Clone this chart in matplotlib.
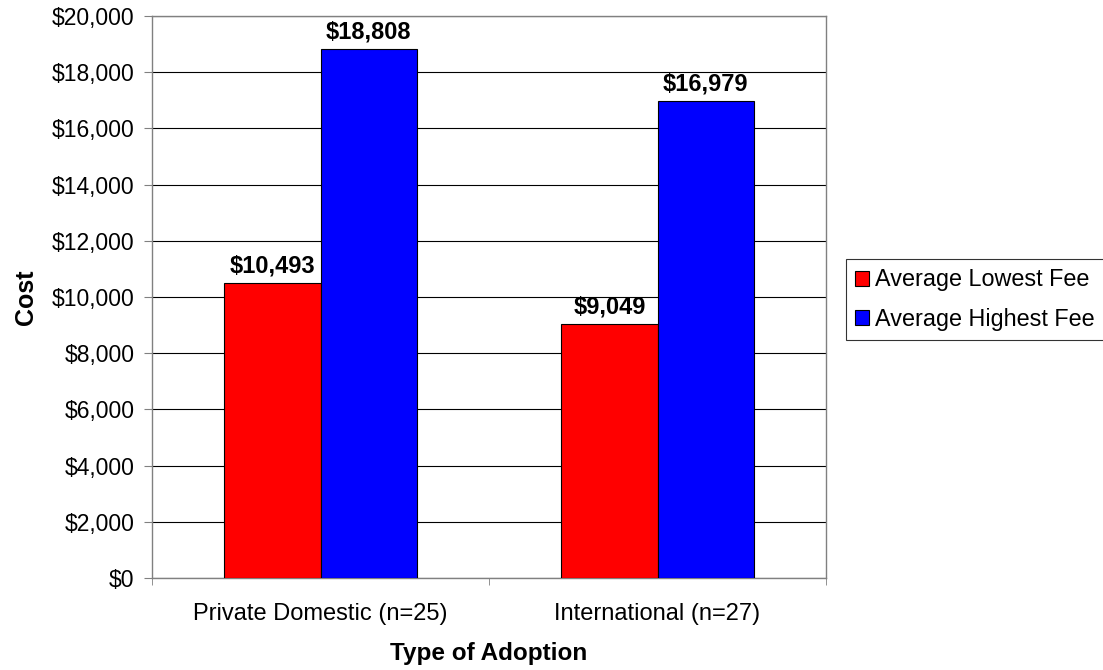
import matplotlib
matplotlib.use('Agg')
from matplotlib import pyplot as plt
import numpy as np

categories = ['Private Domestic (n=25)', 'International (n=27)']
lowest_fee = [10493, 9049]
highest_fee = [18808, 16979]
series_names = ['Average Lowest Fee', 'Average Highest Fee']

plt.rcParams['font.family'] = ['Liberation Sans', 'DejaVu Sans']

fig = plt.figure(figsize=(11.03, 6.70), dpi=100)
ax = fig.add_axes([152/1103, 1-578/670, 674/1103, 562/670])

x = np.arange(len(categories))
w = 0.285
b1 = ax.bar(x - w/2, lowest_fee, w, color='#ff0000', edgecolor='black', linewidth=0.8, label=series_names[0], zorder=3)
b2 = ax.bar(x + w/2, highest_fee, w, color='#0000ff', edgecolor='black', linewidth=0.8, label=series_names[1], zorder=3)

for bars in (b1, b2):
    for r in bars:
        ax.text(r.get_x() + r.get_width()/2, r.get_height() + 200, '${:,.0f}'.format(r.get_height()),
                ha='center', va='bottom', fontsize=17, fontweight='bold')

ax.set_xlim(-0.5, 1.5)
ax.set_ylim(0, 20000)
ax.set_yticks(np.arange(0, 20001, 2000))
ax.set_yticklabels(['${:,.0f}'.format(v) for v in np.arange(0, 20001, 2000)], fontsize=16.5)
ax.yaxis.grid(True, color='black', linewidth=0.8, zorder=0)
ax.set_axisbelow(True)

ax.set_xticks(x)
ax.set_xticklabels(categories, fontsize=17)
ax.tick_params(axis='x', length=0, pad=18)
ax.set_xticks([-0.5, 0.5, 1.5], minor=True)
ax.tick_params(axis='x', which='minor', length=5, color='#808080', direction='out')
ax.tick_params(axis='y', length=5.8, pad=7, color='#808080', direction='out')

for s in ax.spines.values():
    s.set_color('#808080')
    s.set_linewidth(1.0)

ax.set_xlabel('Type of Adoption', fontsize=17.5, fontweight='bold', labelpad=12)
ax.set_ylabel('Cost', fontsize=18, fontweight='bold', labelpad=10)

leg = fig.legend(loc='upper left', bbox_to_anchor=(846/1103, 1-259/670), fontsize=16.8,
                 frameon=True, fancybox=False, edgecolor='black', handlelength=0.6, handleheight=0.6,
                 handletextpad=0.25, borderpad=0.4, labelspacing=0.72, borderaxespad=0)
leg.get_frame().set_linewidth(0.8)
for h in leg.legend_handles:
    h.set_linewidth(0.8)

fig.savefig('out.png', dpi=100)
